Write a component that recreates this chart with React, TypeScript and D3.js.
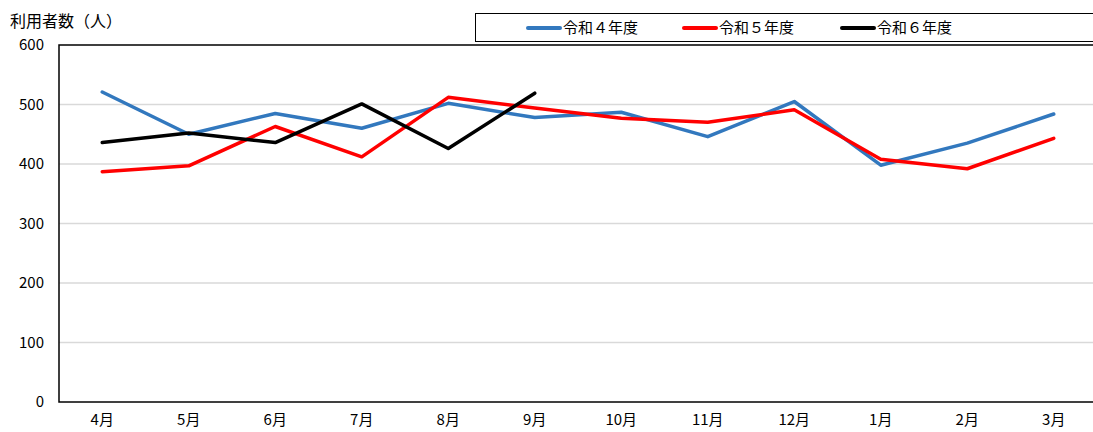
import React from 'react';
import * as d3 from 'd3';

const months = ['4月', '5月', '6月', '7月', '8月', '9月', '10月', '11月', '12月', '1月', '2月', '3月'];
const r4 = [521, 450, 485, 460, 502, 478, 487, 446, 505, 398, 435, 484];
const r5 = [387, 397, 463, 412, 512, 494, 477, 470, 491, 408, 392, 443];
const r6 = [436, 452, 436, 501, 426, 519];
const yTicks = [0, 100, 200, 300, 400, 500, 600];

const series = [
    { name: '令和４年度', color: '#3278be', values: r4 },
    { name: '令和５年度', color: '#ff0000', values: r5 },
    { name: '令和６年度', color: '#000000', values: r6 },
];

const width = 1093;
const height = 432;
const marginLeft = 59;
const marginRight = -4;
const marginTop = 45;
const marginBottom = 30;
const font = '"Noto Sans CJK JP", "Noto Sans", sans-serif';

const App: React.FC = () => {
    const x = d3.scaleBand().domain(months).range([marginLeft, width - marginRight]);
    const y = d3.scaleLinear().domain([0, 600]).range([height - marginBottom, marginTop]);
    const line = d3.line<number>((d, i) => x(months[i])! + x.bandwidth() / 2, (d) => y(d));
    const legendX = [528, 684, 842];

    return (
        <svg width={width} height={height} style={{ position: 'absolute', left: 0, top: 0, fontFamily: font }}>
            <rect width={width} height={height} fill="white" />
            {yTicks.filter((t) => t > 0 && t < 600).map((t) => (
                <line key={t} x1={marginLeft} x2={width} y1={y(t)} y2={y(t)} stroke="#d9d9d9" strokeWidth={1.5} />
            ))}
            <rect x={marginLeft} y={marginTop} width={width - marginLeft + 10} height={y(0) - marginTop}
                fill="none" stroke="black" strokeWidth={1.5} />
            {yTicks.map((t) => (
                <text key={t} x={44} y={y(t)} dy="0.35em" textAnchor="end" fontSize={15}>{t}</text>
            ))}
            {months.map((m) => (
                <text key={m} x={x(m)! + x.bandwidth() / 2} y={425} textAnchor="middle" fontSize={15}>{m}</text>
            ))}
            <text x={10} y={27} fontSize={16}>利用者数（人）</text>
            {series.map((s) => (
                <path key={s.name} d={line(s.values)!} fill="none" stroke={s.color} strokeWidth={3.5}
                    strokeLinejoin="round" strokeLinecap="round" />
            ))}
            <rect x={475.5} y={13.5} width={630} height={28} fill="white" stroke="black" strokeWidth={1} />
            {series.map((s, i) => (
                <g key={s.name} transform={`translate(${legendX[i]},28)`}>
                    <line x1={0} x2={32} y1={0} y2={0} stroke={s.color} strokeWidth={4} strokeLinecap="round" />
                    <text x={35} dy="0.35em" fontSize={15}>{s.name}</text>
                </g>
            ))}
        </svg>
    );
};

export default App;
